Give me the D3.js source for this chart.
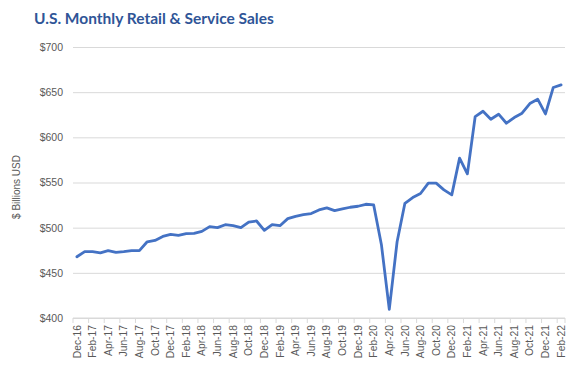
<!DOCTYPE html>
<html>
<head>
<meta charset="utf-8">
<script src="https://cdn.jsdelivr.net/npm/d3@7"></script>
<style>
  html, body { margin: 0; padding: 0; background: #fff; }
  svg { display: block; }
</style>
</head>
<body>
<svg id="chart" width="588" height="373"></svg>
<script>
// month labels, Dec-16 .. Feb-22
const months = [];
const monthNames = ['Jan', 'Feb', 'Mar', 'Apr', 'May', 'Jun', 'Jul', 'Aug', 'Sep', 'Oct', 'Nov', 'Dec'];
months.push('Dec-16');
for (let y = 17; y <= 22; y++) {
  for (let m = 0; m < 12; m++) {
    if (y === 22 && m > 1) break;
    months.push(monthNames[m] + '-' + y);
  }
}

// sales, $ billions
const sales = [
  467.8, 473.5, 473.4, 472.2, 474.6, 472.6, 473.5, 474.6, 474.6, 484.4,
  485.9, 490.3, 492.6, 491.5, 493.3, 493.6, 495.9, 501.1, 500.0, 503.3,
  502.2, 500.0, 506.2, 507.4, 497.0, 503.3, 502.2, 510.0, 512.6, 514.4,
  515.6, 519.6, 521.9, 518.9, 520.7, 522.6, 523.7, 525.9, 525.2, 480.7,
  409.6, 484.4, 527.0, 533.3, 537.8, 549.3, 549.3, 541.9, 536.3, 577.0,
  559.6, 623.0, 628.9, 620.0, 625.6, 615.6, 621.9, 626.7, 637.4, 642.2,
  625.9, 655.2, 658.1
];

const yTicks = [400, 450, 500, 550, 600, 650, 700];

const margin = { top: 47, right: 23, bottom: 55, left: 73 };
const width = 588, height = 373;
const innerW = width - margin.left - margin.right;
const innerH = height - margin.top - margin.bottom;

const svg = d3.select('#chart');

svg.append('text')
  .attr('x', 34)
  .attr('y', 24)
  .attr('font-family', 'Lato, "Noto Sans", sans-serif')
  .attr('font-weight', 700)
  .attr('font-size', 15.5)
  .attr('fill', '#2f5597')
  .text('U.S. Monthly Retail & Service Sales');

const g = svg.append('g')
  .attr('transform', `translate(${margin.left},${margin.top})`);

const x = d3.scaleBand().domain(months).range([0, innerW]);
const y = d3.scaleLinear().domain([400, 700]).range([innerH, 0]);

// gridlines + y labels
const yAxis = g.append('g')
  .call(d3.axisLeft(y).tickValues(yTicks).tickSize(-innerW).tickFormat(d => '$' + d).tickPadding(10));
yAxis.select('.domain').remove();
yAxis.selectAll('.tick line').attr('stroke', '#d9d9d9');
yAxis.selectAll('.tick text')
  .attr('fill', '#595959')
  .attr('font-family', '"Liberation Sans", Arial, sans-serif')
  .attr('font-size', 10.5);

// x axis: tick marks between every two months
const xAxisG = g.append('g').attr('transform', `translate(0,${innerH})`);
xAxisG.append('line')
  .attr('x1', 0).attr('x2', innerW)
  .attr('stroke', '#d9d9d9');
const boundaries = months.filter((d, i) => i % 2 === 0).map(d => x(d));
boundaries.push(innerW);
xAxisG.selectAll('line.tk')
  .data(boundaries)
  .enter().append('line')
  .attr('class', 'tk')
  .attr('x1', d => d).attr('x2', d => d)
  .attr('y1', 0).attr('y2', 5)
  .attr('stroke', '#d9d9d9');
xAxisG.selectAll('text')
  .data(months.filter((d, i) => i % 2 === 0))
  .enter().append('text')
  .attr('transform', d => `translate(${x(d) + x.bandwidth() / 2 + 3.6},7) rotate(-90)`)
  .attr('text-anchor', 'end')
  .attr('fill', '#595959')
  .attr('font-family', '"Liberation Sans", Arial, sans-serif')
  .attr('font-size', 10.3)
  .text(d => d);

// y axis title
svg.append('text')
  .attr('transform', `translate(20,187) rotate(-90)`)
  .attr('text-anchor', 'middle')
  .attr('fill', '#595959')
  .attr('font-family', '"Liberation Sans", Arial, sans-serif')
  .attr('font-size', 10)
  .text('$ Billions USD');

// line
const line = d3.line()
  .x((d, i) => x(months[i]) + x.bandwidth() / 2)
  .y(d => y(d));

g.append('path')
  .datum(sales)
  .attr('fill', 'none')
  .attr('stroke', '#4472c4')
  .attr('stroke-width', 2.8)
  .attr('stroke-linejoin', 'round')
  .attr('stroke-linecap', 'round')
  .attr('d', line);
</script>
</body>
</html>
